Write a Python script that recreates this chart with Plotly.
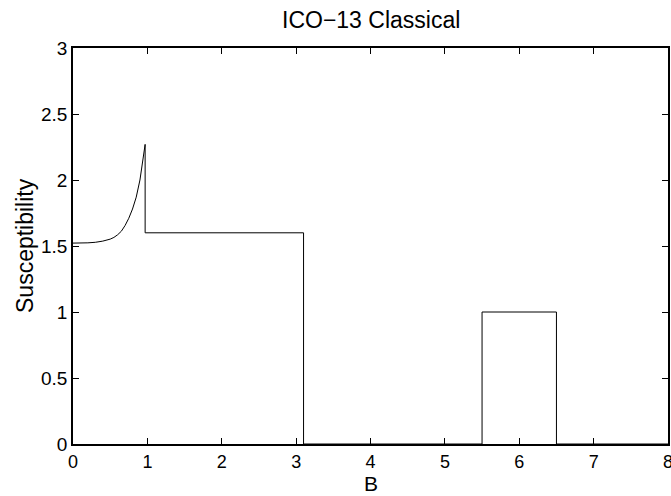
import plotly.graph_objects as go

# Data
curve_B = [0.0, 0.1, 0.2, 0.3, 0.4, 0.5, 0.55, 0.6, 0.65, 0.7, 0.75, 0.8, 0.85, 0.9, 0.94, 0.97]
curve_chi = [1.522, 1.522, 1.524, 1.528, 1.537, 1.552, 1.565, 1.585, 1.612, 1.655, 1.71, 1.78, 1.87, 2.0, 2.14, 2.27]
step_B = [0.97, 3.1, 3.1, 5.5, 5.5, 6.5, 6.5, 8.0]
step_chi = [1.6, 1.6, 0.0, 0.0, 1.0, 1.0, 0.0, 0.0]

x_ticks = [0, 1, 2, 3, 4, 5, 6, 7, 8]
y_ticks = [0, 0.5, 1, 1.5, 2, 2.5, 3]
y_tick_text = ["0", "0.5", "1", "1.5", "2", "2.5", "3"]

title_text = "ICO\u221213 Classical"
x_label = "B"
y_label = "Susceptibility"

B = curve_B + step_B
chi = curve_chi + step_chi

FONT = "Liberation Sans, Arial, Helvetica, sans-serif"

fig = go.Figure()
fig.add_trace(go.Scatter(x=B, y=chi, mode="lines",
                         line=dict(color="black", width=1), showlegend=False,
                         hoverinfo="skip"))

axis_common = dict(showgrid=False, zeroline=False, showline=True, linecolor="black",
                   linewidth=1.8, mirror="ticks", ticks="inside", ticklen=6,
                   tickwidth=1, tickcolor="black", ticklabeloverflow="allow",
                   automargin=False,
                   tickfont=dict(family=FONT, size=19, color="black"))

fig.update_xaxes(range=[0, 8], tickmode="array", tickvals=x_ticks,
                 ticktext=[str(v) for v in x_ticks], **axis_common)
fig.update_xaxes(tickfont=dict(family=FONT, size=18, color="black"))
fig.update_yaxes(range=[0, 3], tickmode="array", tickvals=y_ticks,
                 ticktext=y_tick_text, **axis_common)

fig.update_layout(
    width=671, height=496,
    autosize=False,
    margin=dict(l=73, r=3, t=48, b=52, autoexpand=False),
    paper_bgcolor="white", plot_bgcolor="white",
    annotations=[
        dict(text=title_text, xref="paper", yref="paper", x=0.5, y=1 + 28 / 396,
             xanchor="center", yanchor="middle", showarrow=False,
             font=dict(family=FONT, size=23, color="black")),
        dict(text=x_label, xref="paper", yref="paper", x=0.5, y=-52 / 396,
             xanchor="center", yanchor="bottom", showarrow=False, borderpad=0,
             font=dict(family=FONT, size=21, color="black")),
        dict(text=y_label, xref="paper", yref="paper", x=-48 / 595, y=0.5,
             xanchor="center", yanchor="middle", showarrow=False, textangle=-90,
             font=dict(family=FONT, size=23, color="black")),
    ],
)

fig.write_html("out.html",
               config={"displayModeBar": False, "responsive": False},
               post_script="document.body.style.margin='0';document.body.style.overflow='hidden';")
